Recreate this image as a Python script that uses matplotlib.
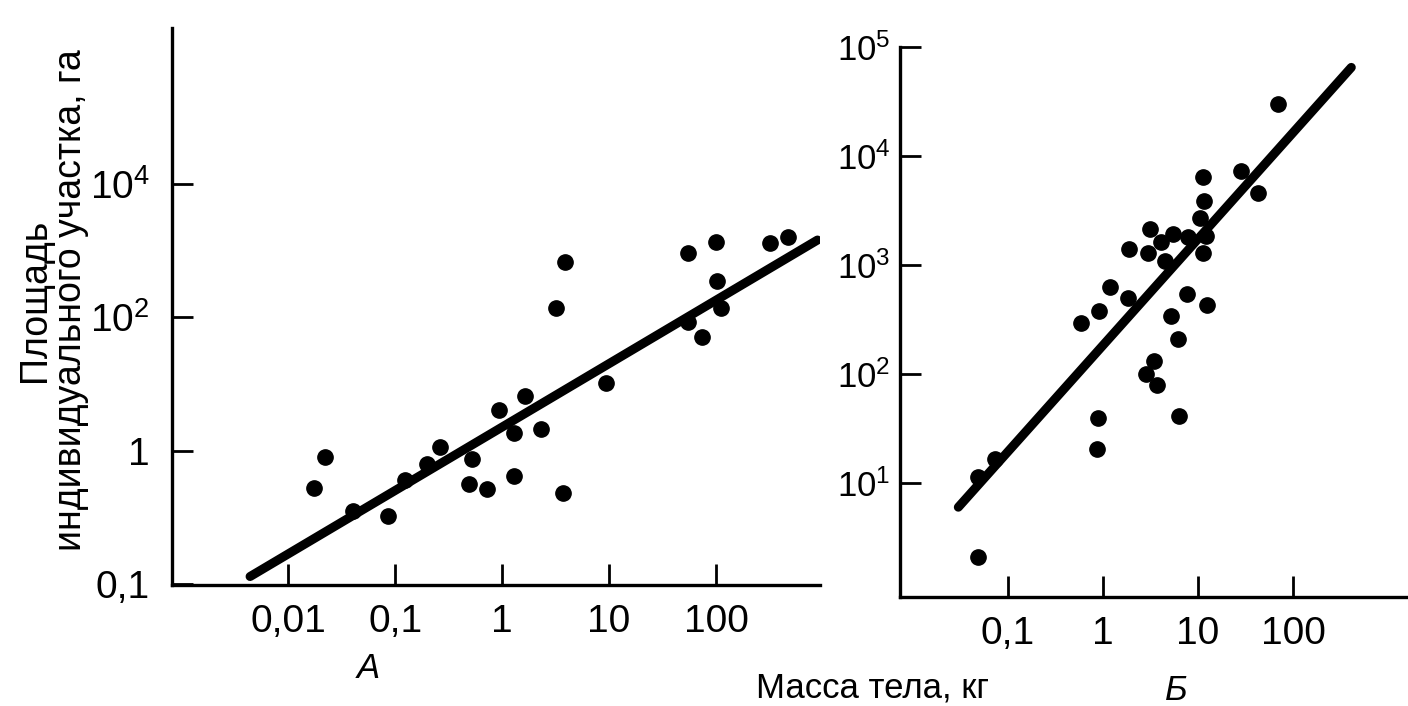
import numpy as np
import matplotlib.pyplot as plt
from matplotlib.ticker import NullLocator

plt.rcParams['font.family'] = ['Liberation Sans Narrow', 'Liberation Sans', 'DejaVu Sans']
plt.rcParams['mathtext.fontset'] = 'custom'
plt.rcParams['mathtext.rm'] = 'Liberation Sans Narrow'

# Panel A: body mass (kg) vs home range area (ha)
mass_a = [0.0175, 0.022, 0.040, 0.086, 0.124, 0.20, 0.26, 0.52, 0.49, 0.72,
          0.94, 1.29, 1.29, 1.64, 2.3, 3.2, 3.9, 3.7, 9.4, 55,
          55, 74, 100, 102, 111, 320, 470]
area_a = [0.28, 0.80, 0.125, 0.105, 0.36, 0.63, 1.13, 0.75, 0.32, 0.27,
          4.1, 1.84, 0.42, 6.6, 2.1, 138, 675, 0.23, 10.4, 920,
          85, 51, 1350, 350, 138, 1300, 1600]
fit_a_x = [0.0044, 890]
fit_a_y = [0.013, 1450]

# Panel B
mass_b = [0.048, 0.048, 0.073, 0.59, 0.86, 0.885, 0.91, 1.19, 1.83, 1.88,
          2.84, 2.98, 3.13, 3.44, 3.70, 4.08, 4.50, 5.2, 5.46, 6.15,
          6.3, 7.66, 7.85, 10.5, 11.3, 11.6, 11.3, 12.1, 12.4, 28.4,
          42.8, 69.5]
area_b = [2.1, 11.4, 16.6, 294, 20.5, 39.4, 378, 628, 498, 1400,
          100, 1290, 2140, 131, 79, 1625, 1090, 340, 1920, 209,
          41, 542, 1805, 2700, 1290, 3860, 6410, 1845, 430, 7280,
          4580, 30000]
fit_b_x = [0.030, 410]
fit_b_y = [6.0, 65000]

xticks_a = [0.01, 0.1, 1, 10, 100]
xlabels_a = ['0,01', '0,1', '1', '10', '100']
yticks_a = [0.01, 1, 100, 1e4]
ylabels_a = ['0,1', '1', r'$\mathregular{10^2}$', r'$\mathregular{10^4}$']

xticks_b = [0.1, 1, 10, 100]
xlabels_b = ['0,1', '1', '10', '100']
yticks_b = [10, 100, 1e3, 1e4, 1e5]
ylabels_b = [r'$\mathregular{10^1}$', r'$\mathregular{10^2}$', r'$\mathregular{10^3}$',
             r'$\mathregular{10^4}$', r'$\mathregular{10^5}$']

fig = plt.figure(figsize=(14.08, 7.06), dpi=100)
ax1 = fig.add_axes([0.1222, 0.1714, 0.4602, 0.789])
ax2 = fig.add_axes([0.6392, 0.1544, 0.3608, 0.779])


def style(ax, xlim, ylim, xt, xl, yt, yl, ypad, ysize):
    ax.set_xscale('log')
    ax.set_yscale('log')
    ax.set_xlim(*xlim)
    ax.set_ylim(*ylim)
    ax.set_xticks(xt)
    ax.set_xticklabels(xl)
    ax.set_yticks(yt)
    ax.set_yticklabels(yl)
    ax.xaxis.set_minor_locator(NullLocator())
    ax.yaxis.set_minor_locator(NullLocator())
    for s in ['top', 'right']:
        ax.spines[s].set_visible(False)
    for s in ['left', 'bottom']:
        ax.spines[s].set_linewidth(2.4)
    ax.tick_params(direction='in', length=15, width=2)
    ax.tick_params(axis='x', pad=14, labelsize=28)
    ax.tick_params(axis='y', pad=ypad, labelsize=ysize)
    ax.patch.set_visible(False)


style(ax1, (8.2e-4, 940), (0.0097, 2.2e6), xticks_a, xlabels_a, yticks_a, ylabels_a, 16, 28)
style(ax2, (0.0073, 1620), (0.9, 1.0e5), xticks_b, xlabels_b, yticks_b, ylabels_b, 7, 25)

ax1.plot(fit_a_x, fit_a_y, color='black', lw=6.5, solid_capstyle='round')
ax1.plot(mass_a, area_a, 'o', color='black', ms=11)
ax2.plot(fit_b_x, fit_b_y, color='black', lw=6.5, solid_capstyle='round')
ax2.plot(mass_b, area_b, 'o', color='black', ms=11)

fig.text(53 / 1408, 0.575, 'Площадь\nиндивидуального участка, га', rotation=90,
         ha='center', va='center', multialignment='center', fontsize=27,
         family=['Liberation Sans', 'DejaVu Sans'], linespacing=0.97)
fig.text(368 / 1408, 1 - 668 / 706, 'А', style='italic', fontsize=25,
         ha='center', va='center', family=['Liberation Sans', 'DejaVu Sans'])
fig.text(873 / 1408, 1 - 688 / 706, 'Масса тела, кг', fontsize=25,
         ha='center', va='center', family=['Liberation Sans', 'DejaVu Sans'])
fig.text(1176 / 1408, 1 - 690 / 706, 'Б', style='italic', fontsize=25,
         ha='center', va='center', family=['Liberation Sans', 'DejaVu Sans'])

fig.savefig('out.png', dpi=100)
